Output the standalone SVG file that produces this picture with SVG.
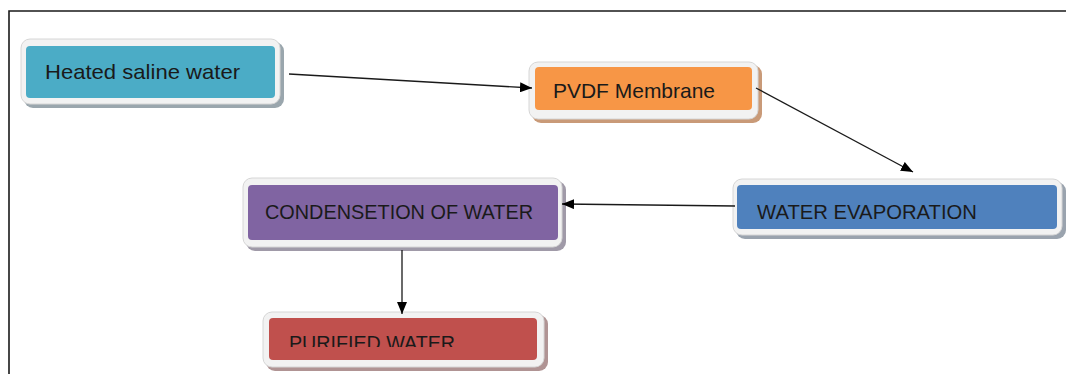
<svg xmlns="http://www.w3.org/2000/svg" width="1066" height="374" viewBox="0 0 1066 374">
<defs>
<style>
.frame{fill:#f2f2f2;stroke:#d6d6d6;stroke-width:1}
.lbl{font-family:"Liberation Sans",Arial,sans-serif;font-size:21px;fill:#1a1a1a}
.conn{stroke:#1a1a1a;stroke-width:1.3;fill:none;marker-end:url(#ah)}
</style>
<marker id="ah" viewBox="0 0 12 10" refX="12" refY="5" markerWidth="12" markerHeight="10" markerUnits="userSpaceOnUse" orient="auto">
<path d="M0,0 L12,5 L0,10 Z" fill="#000"/>
</marker>
<clipPath id="clipP"><rect x="260" y="300" width="300" height="47"/></clipPath>
</defs>
<rect width="1066" height="374" fill="#fff"/>
<path d="M9,374 V11 H1066" fill="none" stroke="#1a1a1a" stroke-width="1.6"/>

<g id="n1">
<rect x="24" y="42" width="260" height="66" rx="9" fill="#9aa6ad"/>
<rect x="21" y="39" width="259" height="65" rx="9" class="frame"/>
<rect x="26" y="46" width="249" height="52" rx="4" fill="#4bacc6"/>
<text x="45" y="79" class="lbl" textLength="195" lengthAdjust="spacingAndGlyphs">Heated saline water</text>
</g>

<g id="n2">
<rect x="532" y="65" width="230" height="58" rx="9" fill="#c99a78"/>
<rect x="529" y="62" width="229" height="57" rx="9" class="frame"/>
<rect x="535" y="67" width="217" height="43" rx="4" fill="#f79646"/>
<text x="553" y="98" class="lbl" textLength="162" lengthAdjust="spacingAndGlyphs">PVDF Membrane</text>
</g>

<g id="n3">
<rect x="246" y="181" width="320" height="70" rx="9" fill="#a09aa8"/>
<rect x="243" y="178" width="319" height="69" rx="9" class="frame"/>
<rect x="248" y="185" width="310" height="55" rx="4" fill="#8064a2"/>
<text x="265" y="219" class="lbl" textLength="268" lengthAdjust="spacingAndGlyphs">CONDENSETION OF WATER</text>
</g>

<g id="n4">
<rect x="736" y="182" width="330" height="57" rx="9" fill="#9aa3ae"/>
<rect x="733" y="179" width="329" height="56" rx="9" class="frame"/>
<rect x="737" y="185" width="320" height="44" rx="4" fill="#4f81bd"/>
<text x="757" y="219" class="lbl" textLength="220" lengthAdjust="spacingAndGlyphs">WATER EVAPORATION</text>
</g>

<g id="n5">
<rect x="266" y="315" width="282" height="56" rx="9" fill="#b09494"/>
<rect x="263" y="312" width="281" height="55" rx="9" class="frame"/>
<rect x="269" y="318" width="268" height="42" rx="4" fill="#c0504d"/>
<text x="289" y="350" class="lbl" clip-path="url(#clipP)" textLength="166" lengthAdjust="spacingAndGlyphs">PURIFIED WATER</text>
</g>

<g id="connectors">
<line x1="289" y1="74" x2="532" y2="88" class="conn"/>
<line x1="756" y1="88" x2="913" y2="172" class="conn"/>
<line x1="735" y1="206" x2="562" y2="204" class="conn"/>
<line x1="402" y1="250" x2="402" y2="314" class="conn"/>
</g>
</svg>
